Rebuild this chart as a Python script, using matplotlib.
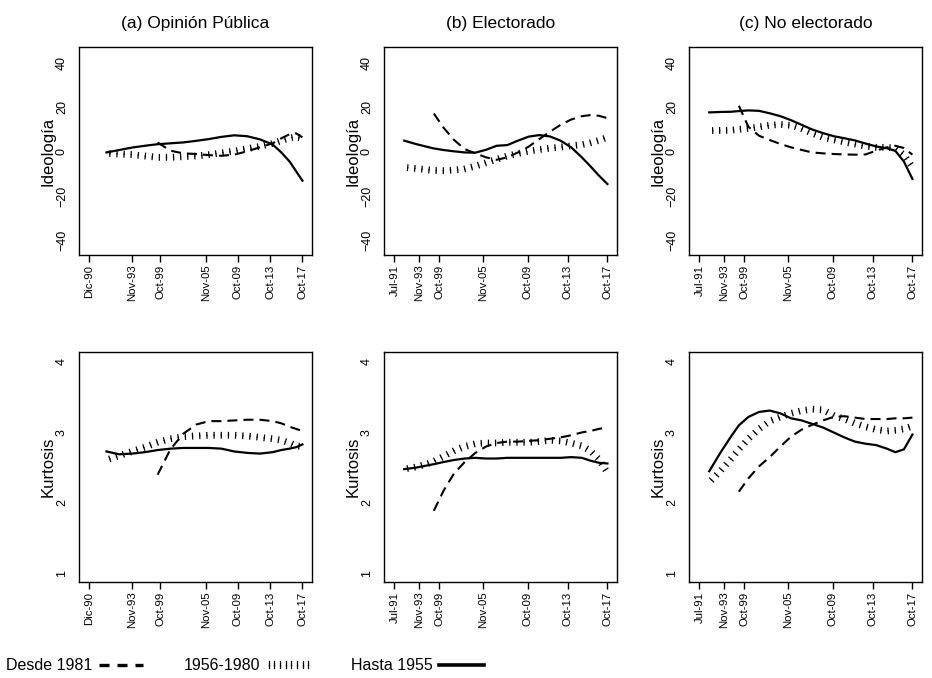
import numpy as np
import matplotlib
matplotlib.use('Agg')
import matplotlib.pyplot as plt
from matplotlib import patheffects as pe
from matplotlib.lines import Line2D

plt.rcParams['font.family'] = ['Liberation Sans', 'DejaVu Sans']

nan = np.nan

# ejes x: posicion de cada encuesta en una escala 0-100
ticks_a = [0, 19.9, 33.2, 54.8, 69.6, 84.8, 100]
labels_a = ['Dic-90', 'Nov-93', 'Oct-99', 'Nov-05', 'Oct-09', 'Oct-13', 'Oct-17']
ticks_bc = [0, 11.7, 21.0, 41.8, 62.6, 81.3, 100]
labels_bc = ['Jul-91', 'Nov-93', 'Oct-99', 'Nov-05', 'Oct-09', 'Oct-13', 'Oct-17']

x_a = [8, 14, 20, 26, 32, 38, 44, 50, 56, 62, 68, 74, 80, 86, 90, 94, 97, 100]
x_bc = [4.6, 10, 15, 18.5, 23, 28, 33, 38, 43, 48, 53, 58, 63, 68, 73, 78, 83, 88, 92, 96, 100]

# (a) Opinion publica - ideologia
ideo_a_1981 = [nan, nan, nan, nan, 4.1, 0.4, -0.8, -1.1, -1.6, -1.9, -1.4, 0.1, 1.9, 3.7, 5.9, 7.8, 8.2, 6.4]
ideo_a_5680 = [-0.8, -1.1, -1.4, -2.0, -2.6, -2.6, -2.3, -2.0, -1.4, -0.6, 0.2, 1.3, 2.3, 3.6, 4.9, 6.1, 6.6, 6.0]
ideo_a_1955 = [-0.4, 0.7, 1.8, 2.6, 3.3, 3.7, 4.1, 4.8, 5.6, 6.6, 7.3, 6.9, 5.5, 3.2, -0.3, -4.5, -8.8, -13.1]

# (b) Electorado - ideologia
ideo_b_1981 = [nan, nan, nan, 17.1, 10.8, 5.2, 1.1, -0.8, -2.6, -3.7, -2.6, -0.4, 2.2, 5.6, 8.9, 12.0, 14.4, 15.9, 16.4, 16.1, 15.0]
ideo_b_5680 = [-7.1, -7.6, -8.1, -8.5, -8.6, -8.3, -7.8, -6.6, -5.0, -3.5, -2.0, -0.9, 0.2, 0.9, 1.5, 2.0, 2.6, 3.1, 3.9, 5.0, 6.4]
ideo_b_1955 = [4.9, 3.4, 2.2, 1.4, 0.7, 0.1, -0.4, -0.5, 0.8, 2.6, 2.9, 4.9, 6.7, 7.4, 6.8, 4.9, 1.9, -2.6, -6.6, -10.8, -14.6]

# (c) No electorado - ideologia
ideo_c_1981 = [nan, nan, nan, 20.6, 11.1, 7.1, 5.2, 3.4, 1.9, 0.7, -0.4, -0.8, -1.1, -1.3, -1.4, -1.3, 0.4, 1.9, 2.6, 1.6, -1.4]
ideo_c_5680 = [9.4, 9.5, 9.6, 10.0, 10.4, 11.1, 11.8, 12.2, 11.8, 10.3, 8.2, 6.4, 5.3, 4.3, 3.4, 2.4, 1.9, 1.9, 1.5, -1.5, -7.0]
ideo_c_1955 = [17.6, 17.8, 17.9, 18.2, 18.5, 18.3, 17.2, 15.9, 14.1, 12.0, 9.9, 8.3, 6.9, 6.0, 5.0, 3.6, 2.3, 1.5, 0.3, -4.5, -12.3]

# (a) Opinion publica - kurtosis
kurt_a_1981 = [nan, nan, nan, nan, 2.40, 2.76, 2.98, 3.11, 3.16, 3.16, 3.17, 3.18, 3.18, 3.16, 3.13, 3.08, 3.05, 3.02]
kurt_a_5680 = [2.61, 2.67, 2.73, 2.79, 2.86, 2.91, 2.94, 2.95, 2.96, 2.96, 2.96, 2.95, 2.93, 2.91, 2.89, 2.85, 2.81, 2.80]
kurt_a_1955 = [2.73, 2.69, 2.70, 2.72, 2.75, 2.77, 2.78, 2.78, 2.78, 2.77, 2.73, 2.71, 2.70, 2.72, 2.75, 2.77, 2.79, 2.83]

# (b) Electorado - kurtosis
kurt_b_1981 = [nan, nan, nan, 1.89, 2.17, 2.42, 2.58, 2.71, 2.80, 2.85, 2.87, 2.87, 2.88, 2.89, 2.91, 2.93, 2.96, 3.00, 3.02, 3.05, 3.07]
kurt_b_5680 = [2.48, 2.51, 2.55, 2.59, 2.66, 2.74, 2.80, 2.84, 2.85, 2.85, 2.86, 2.86, 2.86, 2.87, 2.89, 2.88, 2.85, 2.81, 2.74, 2.62, 2.43]
kurt_b_1955 = [2.48, 2.50, 2.53, 2.55, 2.58, 2.61, 2.63, 2.64, 2.63, 2.63, 2.64, 2.64, 2.64, 2.64, 2.64, 2.64, 2.65, 2.64, 2.60, 2.57, 2.56]

# (c) No electorado - kurtosis
kurt_c_1981 = [nan, nan, nan, 2.16, 2.35, 2.52, 2.65, 2.80, 2.94, 3.04, 3.11, 3.17, 3.22, 3.23, 3.21, 3.19, 3.19, 3.19, 3.20, 3.20, 3.21]
kurt_c_5680 = [2.29, 2.46, 2.63, 2.76, 2.91, 3.05, 3.16, 3.22, 3.27, 3.31, 3.33, 3.32, 3.24, 3.19, 3.13, 3.08, 3.04, 3.02, 3.03, 3.05, 3.09]
kurt_c_1955 = [2.45, 2.72, 2.95, 3.10, 3.22, 3.29, 3.31, 3.27, 3.20, 3.17, 3.12, 3.07, 3.00, 2.93, 2.87, 2.84, 2.82, 2.77, 2.72, 2.76, 2.97]

titles = ['(a) Opinión Pública', '(b) Electorado', '(c) No electorado']
series_names = ['Desde 1981', '1956-1980', 'Hasta 1955']

W, H = 932, 678
fig = plt.figure(figsize=(W / 100, H / 100), dpi=100)

lefts = [79, 384, 689]
rows = [(47, 255), (352, 582)]


def box(left, top, bottom, width=233):
    return [left / W, 1 - bottom / H, width / W, (bottom - top) / H]


dash_style = (0, (4.8, 2.9))
dot_fx = [pe.TickedStroke(spacing=5.0, angle=90, length=0.4),
          pe.TickedStroke(spacing=5.0, angle=-90, length=0.4)]

panels = [
    (0, 0, x_a, ticks_a, labels_a, ideo_a_1981, ideo_a_5680, ideo_a_1955),
    (0, 1, x_bc, ticks_bc, labels_bc, ideo_b_1981, ideo_b_5680, ideo_b_1955),
    (0, 2, x_bc, ticks_bc, labels_bc, ideo_c_1981, ideo_c_5680, ideo_c_1955),
    (1, 0, x_a, ticks_a, labels_a, kurt_a_1981, kurt_a_5680, kurt_a_1955),
    (1, 1, x_bc, ticks_bc, labels_bc, kurt_b_1981, kurt_b_5680, kurt_b_1955),
    (1, 2, x_bc, ticks_bc, labels_bc, kurt_c_1981, kurt_c_5680, kurt_c_1955),
]

for r, c, xs, tks, tlabs, y81, y56, y55 in panels:
    top, bottom = rows[r]
    ax = fig.add_axes(box(lefts[c], top, bottom))

    ax.plot(xs, y81, color='black', lw=1.5, linestyle=dash_style)
    ax.plot(xs, y56, color='black', lw=0.9, path_effects=dot_fx)
    ax.plot(xs, y55, color='black', lw=1.6)

    ax.set_xlim(-4.9, 104.5)
    ax.set_xticks(tks)
    ax.set_xticklabels(tlabs, rotation=90, fontsize=8.2)
    ax.tick_params(axis='x', length=5, width=1, pad=2)

    if r == 0:
        ax.set_ylim(-46.5, 47)
        ax.set_yticks([-40, -20, 0, 20, 40])
        ax.set_ylabel('Ideología', fontsize=12, labelpad=0.5)
        ax.set_title(titles[c], fontsize=12.5, pad=14)
    else:
        ax.set_ylim(0.88, 4.14)
        ax.set_yticks([1, 2, 3, 4])
        ax.set_ylabel('Kurtosis', fontsize=12, labelpad=0.5)
    ax.tick_params(axis='y', length=0, pad=8, labelsize=9, labelrotation=90)
    for lab in ax.get_yticklabels():
        lab.set_va('center')

    for sp in ax.spines.values():
        sp.set_linewidth(1.0)
        sp.set_color('black')

# leyenda con trazos algo mas gruesos, como en el original
leg_handles = [
    Line2D([], [], color='black', lw=2.4, linestyle=(0, (3.0, 2.4))),
    Line2D([], [], color='black', lw=0.9, path_effects=[
        pe.TickedStroke(spacing=3.6, angle=90, length=0.7),
        pe.TickedStroke(spacing=3.6, angle=-90, length=0.7)]),
    Line2D([], [], color='black', lw=2.6),
]
fig.legend(leg_handles, series_names, loc='center left',
           bbox_to_anchor=(6 / W, 1 - 666 / H), ncol=3, frameon=False,
           markerfirst=False, fontsize=11.5, handlelength=2.8,
           handletextpad=0.4, columnspacing=2.5, borderpad=0, borderaxespad=0)

fig.savefig('out.png', dpi=100, facecolor='white')
